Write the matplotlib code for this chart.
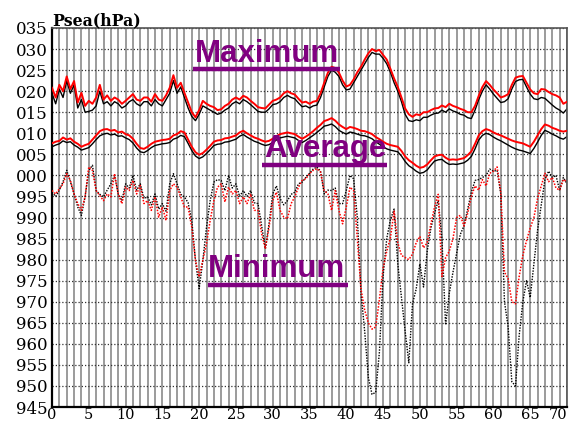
import numpy as np
import matplotlib
matplotlib.use("Agg")
import matplotlib.pyplot as plt

# time axis (days), half-unit resolution
t = np.arange(0, 70.5, 0.5)

max_red = [
    1020.8, 1018.5, 1021.5, 1020, 1023.5, 1020.5, 1022.4, 1017.3, 1019.6, 1016.5,
    1017.7, 1017, 1018.5, 1021.5, 1018, 1019, 1017.7, 1018.5, 1018, 1017,
    1017.7, 1018.5, 1019.3, 1018, 1017.7, 1018.5, 1018.5, 1017.5, 1019.3, 1018,
    1017.7, 1019, 1020.8, 1023.8, 1020.8, 1022, 1019.6, 1017.3, 1015, 1013.8,
    1015.5, 1017.7, 1017, 1016.5, 1016.2, 1015.5, 1015.7, 1016.5, 1017, 1018,
    1018.5, 1018, 1018.9, 1018.5, 1017.7, 1017, 1016.2, 1016, 1015.9, 1016.8,
    1017.7, 1018, 1018.5, 1019.5, 1020, 1019.5, 1019.2, 1018.2, 1017.3, 1017.5,
    1017, 1017.5, 1017.7, 1019.5, 1022, 1024.4, 1025.8, 1025.5, 1024.4, 1022.5,
    1021.1, 1021.5, 1022.8, 1024.5, 1025.8, 1027.5, 1029, 1030, 1029.5, 1029.8,
    1028.6, 1027.5, 1025.3, 1023, 1021, 1018.5, 1015.9, 1014.5, 1013.9, 1014.5,
    1014.3, 1015, 1015, 1015.5, 1015.9, 1016, 1016.6, 1016.2, 1017, 1016.5,
    1016.2, 1015.8, 1015.5, 1015, 1015, 1016.5, 1018.9, 1021, 1022.4, 1021.5,
    1020.4, 1019.5, 1018.5, 1018.8, 1019.3, 1021.5, 1023.2, 1023.5, 1023.6, 1022,
    1020.4, 1019.5, 1019.3, 1020.5, 1020.4, 1019.8, 1019.3, 1019, 1018.5, 1017,
    1017.5]

max_black = [
    1019.5, 1017, 1020.5, 1018.5, 1022.5, 1019.5, 1021.5, 1016, 1018, 1015,
    1015.2, 1015.5, 1016.5, 1020, 1017, 1017.5, 1016.5, 1017.5, 1017, 1016,
    1016.5, 1017.5, 1018, 1017, 1016.5, 1017.5, 1017.5, 1016.5, 1018, 1017,
    1016.5, 1018, 1019.5, 1022.5, 1019.5, 1021, 1018.5, 1016, 1014, 1013,
    1014.5, 1016.5, 1016, 1015.5, 1015, 1014.5, 1014.8, 1015.5, 1016, 1017,
    1017.5, 1017, 1018, 1017.5, 1016.8, 1016, 1015.2, 1015, 1015, 1015.8,
    1016.8, 1017, 1017.5, 1018.5, 1019, 1018.5, 1018.2, 1017.2, 1016.3, 1016.5,
    1016, 1016.5, 1016.7, 1018.5, 1021, 1023.5, 1025, 1024.5, 1023.5, 1021.5,
    1020.3, 1020.5, 1022, 1023.5, 1025, 1026.5, 1028, 1029.2, 1028.8, 1028.8,
    1027.8, 1026.5, 1024.5, 1022, 1020, 1017.5, 1014.5, 1013, 1012.8, 1013.2,
    1013, 1013.8, 1013.8, 1014.3, 1014.7, 1014.8, 1015.5, 1015, 1015.8, 1015.3,
    1015, 1014.5, 1014.3, 1013.7, 1013.5, 1015.5, 1018, 1020, 1021.5, 1020.5,
    1019.3, 1018.3, 1017.3, 1017.5, 1018.2, 1020.5, 1022.3, 1022.7, 1022.8, 1021,
    1019.3, 1018.2, 1018, 1018.5, 1018.3, 1017.5, 1016.7, 1016, 1015.5, 1014.8,
    1015.8]

avg_red = [
    1007.6, 1008, 1008.2, 1009, 1008.5, 1008.8, 1008, 1007.5, 1006.8, 1007.2,
    1007.5, 1008.5, 1009.5, 1010.5, 1010.9, 1011, 1010.6, 1010.8, 1010.2, 1010.4,
    1009.8, 1009.5, 1008.7, 1007.5, 1006.5, 1006.3, 1006.8, 1007.5, 1008, 1008.2,
    1008.4, 1008.5, 1008.7, 1009.5, 1009.8, 1010.5, 1010.2, 1008.5, 1006.8, 1005.5,
    1004.9, 1005.3, 1006.1, 1007, 1008, 1008.3, 1008.4, 1008.8, 1008.9, 1009.2,
    1009.5, 1010.2, 1010.6, 1010, 1009.5, 1009, 1008.7, 1008.3, 1008, 1008.2,
    1008.7, 1009.3, 1009.8, 1010, 1010.2, 1010, 1009.8, 1009.2, 1008.7, 1009.2,
    1009.8, 1010.5, 1011.3, 1012, 1012.9, 1013.2, 1013.6, 1013, 1012.1, 1011.5,
    1011, 1011.5, 1011.3, 1011, 1010.6, 1010.5, 1010.2, 1009.8, 1009.1, 1008.6,
    1008, 1007.5, 1007.2, 1007, 1006.8, 1005.8, 1004.5, 1003.6, 1003, 1002.3,
    1001.8, 1002, 1002.6, 1003.6, 1004.5, 1004.8, 1004.9, 1004.2, 1003.7, 1003.8,
    1003.7, 1003.9, 1004.1, 1004.8, 1005.7, 1007.5, 1009.5, 1010.5, 1011, 1010.7,
    1010.2, 1009.8, 1009.5, 1009.1, 1008.7, 1008.3, 1008, 1007.8, 1007.6, 1007.2,
    1006.8, 1008, 1009.5, 1011, 1012.1, 1011.8, 1011.3, 1011, 1010.6, 1010.4,
    1010.6]

avg_black = [
    1006.8, 1007.2, 1007.5, 1008.2, 1007.8, 1008, 1007.2, 1006.7, 1006, 1006.3,
    1006.6, 1007.5, 1008.5, 1009.4, 1009.8, 1010, 1009.6, 1009.8, 1009.3, 1009.4,
    1008.9, 1008.5, 1007.7, 1006.5, 1005.6, 1005.4, 1005.9, 1006.6, 1007.1, 1007.3,
    1007.5, 1007.6, 1007.8, 1008.6, 1008.9, 1009.5, 1009.2, 1007.6, 1005.9, 1004.6,
    1004, 1004.4, 1005.2, 1006.1, 1007.1, 1007.4, 1007.5, 1007.9, 1008, 1008.3,
    1008.6, 1009.3, 1009.7, 1009.1, 1008.6, 1008.1, 1007.8, 1007.4, 1007.1, 1007.3,
    1007.8, 1008.4, 1008.9, 1009.1, 1009.3, 1009.1, 1008.9, 1008.3, 1007.8, 1008.3,
    1008.9, 1009.5, 1010.2, 1010.9, 1011.7, 1011.9, 1012.2, 1011.6, 1010.7, 1010.2,
    1009.8, 1010.3, 1010.1, 1009.8, 1009.5, 1009.4, 1009.1, 1008.7, 1008, 1007.4,
    1006.8, 1006.3, 1006, 1005.8, 1005.6, 1004.6, 1003.3, 1002.3, 1001.7, 1001,
    1000.5, 1000.7, 1001.3, 1002.4, 1003.4, 1003.7, 1003.8, 1003.1, 1002.6, 1002.7,
    1002.6, 1002.8, 1003, 1003.6, 1004.5, 1006.3, 1008.4, 1009.5, 1010, 1009.7,
    1009.1, 1008.6, 1008.2, 1007.7, 1007.2, 1006.7, 1006.3, 1006, 1005.8, 1005.5,
    1005.2, 1006.4, 1007.9, 1009.5, 1010.7, 1010.3, 1009.8, 1009.4, 1008.9, 1008.6,
    1009.2]

min_red = [
    996.4, 995.6, 996.8, 998, 1000.4, 998.8, 995.6, 993.3, 991.7, 994.9,
    1002, 1001.2, 996.4, 995.2, 994, 995.6, 994.9, 1000.4, 995.6, 993.3,
    997.2, 996.4, 998.8, 995.6, 997.6, 993.3, 994, 991.7, 994.9, 990.1,
    992.5, 989.3, 996.4, 998, 997.2, 994.9, 992.5, 992.5, 987.7, 979.8,
    975.9, 979.8, 983.8, 989.3, 994, 997.2, 998, 993.7, 997.2, 995.6,
    996.4, 993.3, 994.9, 993.3, 995.6, 991.7, 991.7, 986.1, 982.6, 987.7,
    994, 996, 991.7, 990.1, 989.7, 993.3, 994.9, 997.2, 998.8, 999.2,
    1000.4, 1001.2, 1001.6, 1000.8, 996.4, 995.6, 991.7, 996.4, 991.7, 988.5,
    992.5, 997.2, 996.4, 985, 973, 968, 965, 963.5, 964, 970.5,
    978, 982, 985.2, 991.5, 984, 981, 980.5, 980, 981.3, 984,
    985.5, 982.8, 984, 988.5, 992.5, 995.5, 976, 980.5, 982, 985,
    990, 990.5, 988, 991, 995, 997.5, 996.5, 999, 997.5, 1000.5,
    1001, 1002, 996, 977, 975.5, 970, 969.5, 976, 981, 984.5,
    987.5, 990, 994.5, 997.5, 1000.5, 998.5, 999.5, 997, 996.5, 999,
    998.5]

min_black = [
    996, 995, 996.5, 998.5, 1001.2, 998.5, 995.6, 992.5, 990.5, 995,
    1001.2, 1002.4, 996.4, 995.5, 994.9, 996.5, 998, 1000, 995.6, 994,
    998, 997, 1000, 996.5, 998, 994.5, 994.9, 993, 995.6, 992,
    993.3, 991.5, 998, 1000.4, 998, 995.5, 994.9, 993.5, 989.3, 979.8,
    973.1, 979.8, 987.7, 994, 998.4, 999, 998.8, 996.4, 1000, 997,
    998, 995, 996.4, 995, 996.4, 993.5, 993.3, 988, 982.6, 988.5,
    995.6, 997.5, 994.5, 993, 994, 995.5, 996, 998, 998.4, 999.5,
    1000.5, 1001.5, 1002, 1001, 995.6, 996.5, 996.4, 997, 993.3, 993.3,
    996.4, 1000, 999.2, 990, 972, 963, 952, 948, 948.5, 958,
    976, 985, 989.5, 992, 979, 971, 963, 955.5, 969.5, 973,
    979, 973.5, 982, 987.5, 991, 994, 985, 964.5, 972, 977,
    981.5, 986, 988, 992, 996, 998.8, 999, 999.5, 1000, 1001.5,
    1001, 1001.2, 995.6, 970, 964, 951, 950, 962, 970, 975,
    971, 979, 987, 993, 999, 1001, 999.5, 1000, 996.4, 999.5,
    998]

y_ticks = list(range(945, 1036, 5))
x_ticks = list(range(0, 71, 5))
labels = ["Maximum", "Average", "Minimum"]

W, H = 574, 422
fig = plt.figure(figsize=(W / 100, H / 100), dpi=100)
ax = fig.add_axes([52 / W, 1 - 407 / H, (567 - 52) / W, (407 - 28) / H])

ax.set_xlim(0, 70)
ax.set_ylim(945, 1035)

# grid
for xv in range(0, 71):
    ax.axvline(xv, color="#939393", lw=1.3, zorder=0)
for yv in y_ticks:
    ax.axhline(yv, color="#333333", lw=0.9, ls=(0, (1, 1.6)), zorder=0.5)

purple = "#800080"

ax.plot(t, max_black, color="black", lw=1.0, zorder=2)
ax.plot(t, max_red, color="#ff0000", lw=1.4, zorder=3)
ax.plot(t, avg_black, color="black", lw=1.0, zorder=2)
ax.plot(t, avg_red, color="#ff0000", lw=1.4, zorder=3)
ax.plot(t, min_black, color="black", lw=1.0, ls=(0, (1, 1)), zorder=2)
ax.plot(t, min_red, color="#ff0000", lw=1.1, ls=(0, (1, 1)), zorder=3)

# labels with underline bars
lab_pos = [(19.4, 1026.9, 1025.2, 19.1, 39.2),
           (28.9, 1004.3, 1002.5, 28.6, 45.6),
           (21.2, 975.8, 974.0, 21.2, 40.2)]
for txt, (x0, yb, yu, u0, u1) in zip(labels, lab_pos):
    ax.text(x0, yb, txt, color=purple, fontsize=22.5, fontweight="bold",
            family="Liberation Sans", ha="left", va="baseline", zorder=5)
    ax.plot([u0, u1], [yu, yu], color=purple, lw=3.2, solid_capstyle="butt",
            zorder=5, clip_on=False)

ax.set_xticks(x_ticks)
ax.set_yticks(y_ticks)
ax.set_xticklabels([str(v) for v in x_ticks])
ax.set_yticklabels([f"{v % 1000:03d}" for v in y_ticks])
ax.tick_params(axis="y", length=0, labelsize=12, pad=3)
ax.tick_params(axis="x", length=0, labelsize=10.5, pad=0.5)
for lab in ax.get_xticklabels() + ax.get_yticklabels():
    lab.set_family("DejaVu Serif")
ax.get_xticklabels()[-1].set_horizontalalignment("right")

for side in ["left", "bottom"]:
    ax.spines[side].set_color("black")
    ax.spines[side].set_linewidth(1.6)
for side in ["top", "right"]:
    ax.spines[side].set_color("#555555")
    ax.spines[side].set_linewidth(1.2)

fig.text(52 / W, 1 - 25 / H, "Psea(hPa)", family="DejaVu Serif",
         fontweight="bold", fontsize=11.3, ha="left", va="baseline")

fig.savefig("out.png", dpi=100)
